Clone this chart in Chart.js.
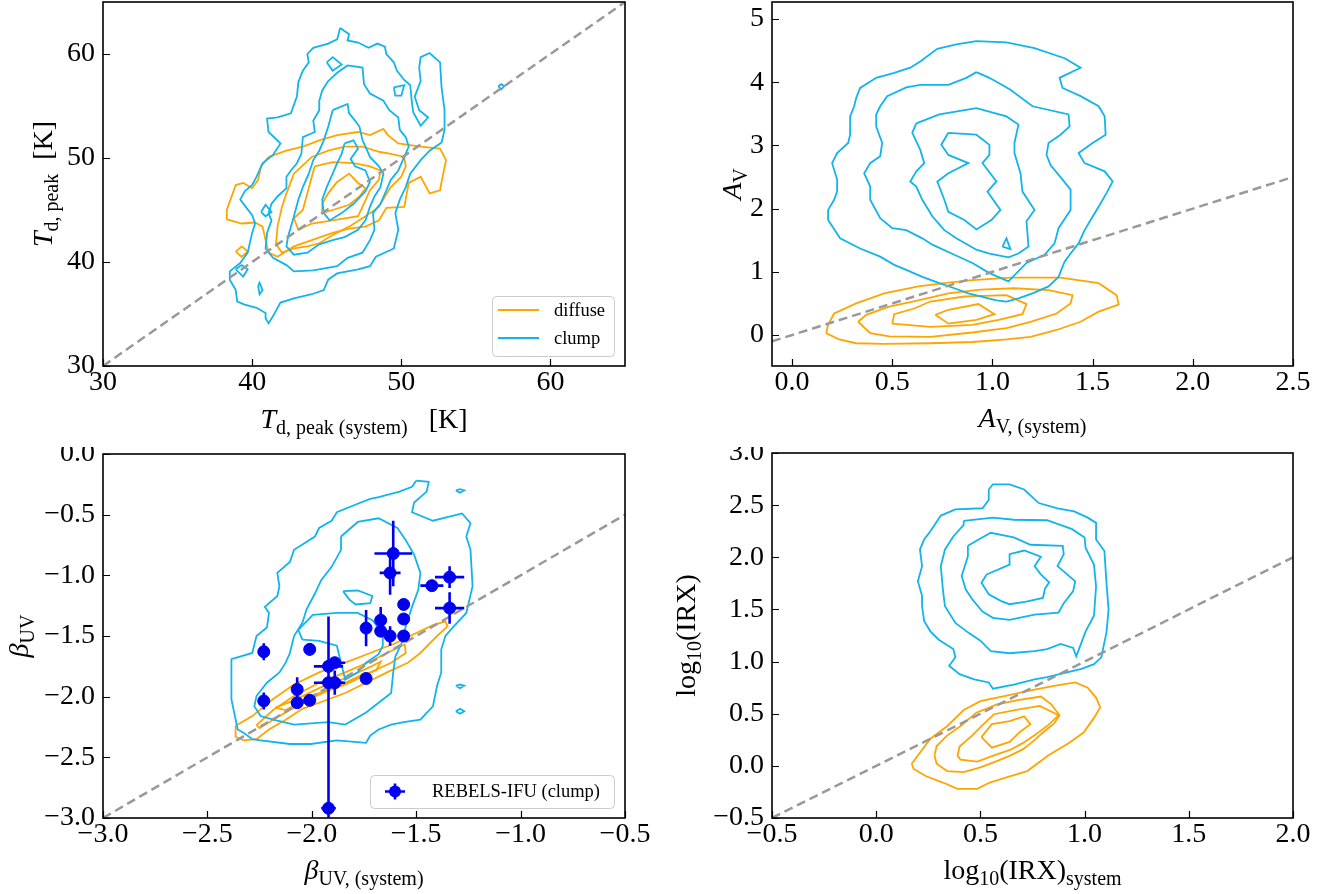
<!DOCTYPE html>
<html>
<head>
<meta charset="utf-8">
<script src="https://cdn.jsdelivr.net/npm/chart.js@4.4.0/dist/chart.umd.min.js"></script>
<style>
  html, body { margin: 0; padding: 0; background: #fff; }
  #wrap { position: relative; width: 1336px; height: 894px; }
  #wrap canvas { position: absolute; }
</style>
</head>
<body>
<div id="wrap"></div>
<script>
// axis limits and tick labels
const tdRange = [30, 65];
const tdTicks = [30, 40, 50, 60];
const avRangeX = [-0.1, 2.5], avRangeY = [-0.49, 5.27];
const avTicksX = [0, 0.5, 1, 1.5, 2, 2.5], avTicksY = [0, 1, 2, 3, 4, 5];
const betaRangeX = [-3, -0.5], betaRangeY = [-3, 0];
const betaTicksX = [-3, -2.5, -2, -1.5, -1, -0.5], betaTicksY = [-3, -2.5, -2, -1.5, -1, -0.5, 0];
const irxRangeX = [-0.5, 2], irxRangeY = [-0.5, 3];
const irxTicksX = [-0.5, 0, 0.5, 1, 1.5, 2], irxTicksY = [-0.5, 0, 0.5, 1, 1.5, 2, 2.5, 3];

// contour levels (outer to inner)
const tdClump = [
  [[45.9,62.5],[46.5,61.9],[46.4,61.3],[47.1,61.1],[47.8,60.6],[48.4,61.0],[48.9,60.7],[49.0,60.0],[49.5,59.2],[49.7,58.4],[50.2,57.5],[50.6,57.0],[50.7,55.5],[50.8,54.4],[51.3,53.1],[51.8,53.9],[51.2,54.6],[50.9,55.9],[51.3,57.4],[51.2,58.7],[51.3,59.7],[51.9,60.1],[52.6,59.2],[52.7,56.8],[52.9,54.6],[52.9,52.7],[52.7,51.5],[51.9,50.7],[51.3,49.8],[50.6,48.5],[50.3,47.2],[49.9,46.0],[49.6,44.7],[49.8,43.1],[49.5,41.3],[48.3,40.5],[47.9,39.6],[47.1,39.3],[45.7,38.9],[45.1,38.3],[44.8,37.3],[44.0,36.9],[42.8,36.5],[41.9,36.1],[41.4,34.8],[41.1,34.1],[40.9,34.6],[40.9,35.1],[40.3,35.6],[39.5,35.9],[39.0,36.2],[38.9,37.3],[38.5,38.3],[38.5,39.1],[39.2,39.9],[39.7,40.9],[40.0,42.8],[40.2,43.7],[40.0,44.5],[39.2,46.0],[39.5,46.8],[40.0,47.4],[40.3,48.2],[40.7,49.5],[41.4,50.3],[41.9,51.4],[41.1,52.5],[41.0,53.8],[41.7,53.9],[42.6,54.3],[43.0,55.9],[43.1,57.3],[43.4,58.4],[43.8,59.2],[43.7,60.0],[44.1,60.6],[45.1,61.0],[45.7,61.4]],
  [[45.1,57.4],[45.7,58.2],[46.4,58.9],[47.4,58.7],[47.5,57.1],[47.9,56.2],[48.8,55.5],[49.2,54.6],[49.8,53.9],[49.9,52.7],[50.3,52.0],[50.5,51.1],[50.2,50.1],[49.8,48.8],[49.3,47.9],[49.0,46.9],[48.6,45.6],[48.1,44.7],[48.2,43.1],[47.9,42.1],[47.4,40.9],[46.4,40.4],[45.7,39.6],[44.1,39.2],[42.8,39.1],[42.3,39.7],[41.4,40.4],[40.9,41.3],[41.0,42.8],[41.3,44.0],[41.1,44.7],[41.3,45.6],[41.7,46.3],[42.3,47.1],[42.3,48.2],[42.6,48.8],[43.0,49.5],[43.3,50.4],[43.4,52.0],[44.2,52.5],[44.1,53.6],[44.5,54.6],[44.5,55.5],[44.7,56.5]],
  [[45.4,54.6],[46.4,55.2],[46.5,54.3],[46.9,53.6],[47.2,53.0],[47.4,51.7],[47.6,51.1],[47.9,50.1],[48.5,49.2],[48.8,48.5],[48.6,47.2],[48.2,46.3],[47.9,45.3],[47.6,44.0],[47.1,43.1],[46.2,42.4],[45.4,42.1],[44.5,41.7],[43.7,40.9],[42.8,40.7],[42.3,41.5],[42.4,42.4],[42.6,43.4],[42.8,44.4],[43.1,46.0],[43.4,47.2],[43.8,48.5],[44.1,49.8],[44.5,50.7],[44.8,51.7],[45.1,53.0]],
  [[46.2,51.4],[46.8,51.7],[47.1,50.9],[46.6,49.9],[46.9,49.2],[47.6,48.8],[47.9,47.7],[47.6,46.8],[46.8,45.6],[46.0,44.7],[45.2,44.0],[44.8,44.7],[44.7,46.0],[45.0,47.2],[45.4,48.5],[45.7,49.5],[46.0,50.4]],
  [[45.0,59.2],[45.4,59.7],[46.0,59.0],[45.4,58.4]],
  [[49.5,56.8],[50.2,57.0],[50.0,56.0],[49.6,56.0]],
  [[56.5,56.9],[56.7,57.1],[56.9,56.9],[56.7,56.6]],
  [[40.6,44.8],[40.9,45.5],[41.3,44.8],[40.9,44.4]],
  [[38.9,39.3],[39.3,39.7],[39.7,39.3],[39.4,38.6]],
  [[40.4,37.7],[40.5,38.0],[40.7,37.3],[40.5,36.9]]
];
const tdDiffuse = [
  [[41.1,50.1],[42.3,50.7],[43.4,51.1],[44.5,51.7],[45.7,52.2],[47.1,52.5],[47.9,52.2],[48.8,52.8],[49.1,52.2],[49.8,51.4],[51.3,51.1],[52.6,50.9],[53.0,49.8],[52.7,47.7],[52.6,46.9],[51.9,46.6],[51.3,48.2],[50.5,47.6],[50.2,45.3],[49.0,45.2],[48.5,44.0],[47.6,43.4],[46.5,43.2],[45.4,42.8],[44.0,42.1],[42.8,41.5],[41.7,40.5],[41.1,40.9],[40.9,42.1],[40.7,43.4],[40.2,43.8],[39.3,43.7],[38.3,44.1],[38.3,45.0],[38.9,47.4],[39.4,47.6],[40.0,47.1],[40.4,47.9],[40.6,49.2]],
  [[42.8,48.5],[44.0,50.1],[45.1,50.7],[46.2,51.1],[47.4,51.1],[48.5,50.6],[49.3,50.4],[50.2,50.1],[50.3,49.2],[50.0,48.2],[49.3,47.2],[48.9,46.3],[48.5,45.3],[47.6,44.4],[46.5,43.4],[45.4,42.6],[44.5,41.8],[43.7,41.5],[42.8,41.3],[42.0,40.9],[41.6,41.7],[41.7,43.4],[42.0,45.3],[42.3,46.6]],
  [[44.2,49.2],[45.4,49.6],[46.8,49.5],[47.9,49.2],[48.6,48.8],[48.5,47.9],[47.9,46.9],[47.4,45.3],[47.1,44.4],[45.4,44.0],[44.0,43.7],[43.1,43.1],[42.8,44.2],[43.4,45.0],[43.7,46.6],[44.0,48.2]],
  [[45.7,47.7],[46.5,48.5],[47.1,47.6],[47.6,47.1],[47.2,46.3],[46.5,45.5],[45.4,45.0],[44.7,44.7],[44.7,45.6],[45.1,46.6]],
  [[38.9,41.0],[39.3,41.5],[39.7,41.0],[39.3,40.5]]
];

const avClump = [
  [[0.92,4.65],[1.07,4.63],[1.21,4.54],[1.36,4.38],[1.44,4.23],[1.335,4.07],[1.35,3.91],[1.44,3.78],[1.53,3.62],[1.56,3.46],[1.565,3.17],[1.50,3.04],[1.43,2.88],[1.46,2.72],[1.56,2.59],[1.60,2.43],[1.57,2.25],[1.53,2.03],[1.49,1.82],[1.46,1.66],[1.43,1.45],[1.39,1.29],[1.36,1.16],[1.33,0.92],[1.28,0.77],[1.20,0.66],[1.13,0.58],[1.07,0.53],[1.02,0.55],[0.94,0.61],[0.88,0.66],[0.81,0.74],[0.735,0.82],[0.65,0.92],[0.57,1.03],[0.51,1.11],[0.44,1.24],[0.34,1.37],[0.24,1.53],[0.18,1.82],[0.18,1.98],[0.21,2.14],[0.225,2.27],[0.225,2.46],[0.20,2.72],[0.225,2.88],[0.28,3.04],[0.29,3.17],[0.29,3.46],[0.31,3.62],[0.32,3.75],[0.34,3.91],[0.42,4.07],[0.51,4.15],[0.59,4.23],[0.64,4.33],[0.725,4.53],[0.82,4.60]],
  [[0.92,4.16],[0.985,4.07],[1.09,3.88],[1.20,3.62],[1.38,3.49],[1.385,3.30],[1.34,3.17],[1.28,3.04],[1.27,2.85],[1.29,2.69],[1.35,2.46],[1.39,2.30],[1.39,1.98],[1.33,1.69],[1.31,1.45],[1.26,1.27],[1.17,1.14],[1.08,0.85],[0.985,0.98],[0.90,1.14],[0.81,1.27],[0.70,1.43],[0.65,1.53],[0.57,1.66],[0.50,1.69],[0.44,1.85],[0.39,2.14],[0.39,2.35],[0.36,2.56],[0.39,2.72],[0.44,2.83],[0.45,3.04],[0.42,3.30],[0.42,3.49],[0.44,3.62],[0.475,3.78],[0.57,3.92],[0.64,3.96],[0.78,3.96],[0.87,4.07]],
  [[0.62,3.35],[0.735,3.49],[0.92,3.59],[1.07,3.46],[1.13,3.33],[1.11,3.04],[1.11,2.88],[1.14,2.56],[1.15,2.27],[1.21,1.98],[1.17,1.80],[1.18,1.40],[1.13,1.29],[1.08,1.23],[0.985,1.29],[0.92,1.35],[0.82,1.53],[0.76,1.66],[0.70,1.88],[0.65,2.14],[0.62,2.35],[0.59,2.43],[0.62,2.59],[0.66,2.72],[0.64,2.93],[0.60,3.20]],
  [[0.78,3.20],[0.92,3.17],[0.985,3.01],[0.985,2.85],[0.95,2.72],[1.02,2.43],[0.975,2.27],[1.04,1.98],[0.995,1.82],[0.92,1.67],[0.86,1.82],[0.78,1.95],[0.76,2.14],[0.725,2.43],[0.78,2.56],[0.88,2.72],[0.78,2.85],[0.745,3.01]],
  [[1.05,1.40],[1.07,1.53],[1.09,1.36]]
];
const avDiffuse = [
  [[0.17,0.03],[0.18,0.16],[0.21,0.34],[0.32,0.50],[0.46,0.66],[0.63,0.77],[0.78,0.83],[0.90,0.87],[1.09,0.91],[1.34,0.91],[1.53,0.82],[1.62,0.63],[1.63,0.48],[1.53,0.37],[1.44,0.21],[1.32,0.08],[1.19,-0.03],[1.07,-0.07],[0.90,-0.11],[0.69,-0.13],[0.46,-0.14],[0.32,-0.13],[0.235,-0.07]],
  [[0.33,0.21],[0.37,0.32],[0.485,0.45],[0.63,0.55],[0.78,0.66],[0.94,0.72],[1.11,0.74],[1.28,0.71],[1.40,0.63],[1.39,0.50],[1.32,0.34],[1.19,0.21],[1.07,0.11],[0.90,0.04],[0.69,-0.03],[0.485,-0.02],[0.39,0.03]],
  [[0.50,0.18],[0.51,0.33],[0.61,0.42],[0.69,0.53],[0.86,0.61],[1.07,0.63],[1.17,0.49],[1.15,0.33],[1.03,0.24],[0.90,0.16],[0.69,0.13]],
  [[0.715,0.32],[0.78,0.40],[0.93,0.49],[1.01,0.33],[0.92,0.24],[0.78,0.18]]
];

const betaClump = [
  [[-1.50,-0.22],[-1.44,-0.23],[-1.45,-0.31],[-1.51,-0.40],[-1.52,-0.48],[-1.42,-0.55],[-1.28,-0.49],[-1.24,-0.57],[-1.26,-0.68],[-1.24,-0.79],[-1.23,-1.09],[-1.26,-1.31],[-1.32,-1.42],[-1.36,-1.50],[-1.38,-1.61],[-1.38,-1.80],[-1.40,-1.91],[-1.42,-2.08],[-1.48,-2.19],[-1.56,-2.21],[-1.62,-2.23],[-1.68,-2.27],[-1.72,-2.32],[-1.74,-2.38],[-1.88,-2.36],[-2.005,-2.39],[-2.105,-2.39],[-2.245,-2.36],[-2.285,-2.35],[-2.325,-2.30],[-2.355,-2.27],[-2.385,-2.02],[-2.385,-1.80],[-2.385,-1.69],[-2.285,-1.64],[-2.265,-1.50],[-2.215,-1.43],[-2.205,-1.31],[-2.225,-1.26],[-2.165,-1.17],[-2.155,-1.09],[-2.165,-0.98],[-2.105,-0.89],[-2.085,-0.79],[-1.985,-0.68],[-1.965,-0.61],[-1.905,-0.55],[-1.88,-0.48],[-1.78,-0.41],[-1.72,-0.37],[-1.68,-0.355],[-1.58,-0.31],[-1.52,-0.27]],
  [[-1.86,-0.68],[-1.78,-0.56],[-1.68,-0.53],[-1.59,-0.61],[-1.55,-0.71],[-1.51,-0.83],[-1.48,-0.98],[-1.49,-1.12],[-1.52,-1.26],[-1.55,-1.42],[-1.57,-1.56],[-1.60,-1.67],[-1.61,-1.80],[-1.62,-1.97],[-1.68,-2.05],[-1.74,-2.13],[-1.84,-2.23],[-1.92,-2.21],[-2.085,-2.23],[-2.185,-2.19],[-2.245,-2.16],[-2.275,-2.08],[-2.265,-1.995],[-2.215,-1.885],[-2.155,-1.80],[-2.125,-1.72],[-2.105,-1.64],[-2.085,-1.50],[-2.045,-1.39],[-2.025,-1.28],[-1.985,-1.15],[-1.955,-1.04],[-1.905,-0.93],[-1.86,-0.79]],
  [[-2.045,-1.53],[-2.065,-1.45],[-1.995,-1.325],[-1.88,-1.31],[-1.78,-1.31],[-1.71,-1.37],[-1.66,-1.48],[-1.66,-1.58],[-1.68,-1.65],[-1.74,-1.72],[-1.78,-1.80],[-1.84,-1.86],[-1.88,-1.58],[-1.965,-1.54]],
  [[-1.85,-1.13],[-1.78,-1.125],[-1.71,-1.17],[-1.72,-1.23],[-1.79,-1.24],[-1.82,-1.20]],
  [[-1.31,-0.30],[-1.29,-0.29],[-1.27,-0.30],[-1.29,-0.32]],
  [[-1.31,-1.91],[-1.29,-1.90],[-1.27,-1.91],[-1.29,-1.93]],
  [[-1.31,-2.12],[-1.29,-2.10],[-1.27,-2.12],[-1.29,-2.14]]
];
const betaDiffuse = [
  [[-2.365,-2.24],[-2.285,-2.16],[-2.185,-2.02],[-2.085,-1.90],[-1.965,-1.80],[-1.84,-1.72],[-1.72,-1.64],[-1.60,-1.56],[-1.50,-1.475],[-1.42,-1.41],[-1.36,-1.38],[-1.35,-1.42],[-1.40,-1.50],[-1.48,-1.64],[-1.54,-1.72],[-1.64,-1.80],[-1.74,-1.885],[-1.84,-1.97],[-1.965,-2.05],[-2.045,-2.10],[-2.125,-2.19],[-2.205,-2.27],[-2.265,-2.35],[-2.325,-2.36],[-2.365,-2.33]],
  [[-2.265,-2.235],[-2.185,-2.11],[-2.085,-1.995],[-1.965,-1.885],[-1.84,-1.80],[-1.72,-1.71],[-1.64,-1.64],[-1.555,-1.57],[-1.55,-1.64],[-1.62,-1.72],[-1.72,-1.80],[-1.84,-1.90],[-1.965,-1.98],[-2.085,-2.09],[-2.185,-2.19],[-2.25,-2.26]],
  [[-2.175,-2.09],[-2.085,-2.03],[-1.965,-1.93],[-1.84,-1.85],[-1.72,-1.755],[-1.67,-1.71],[-1.69,-1.78],[-1.80,-1.865],[-1.925,-1.945],[-2.045,-2.035],[-2.125,-2.11]],
  [[-2.085,-2.06],[-1.965,-1.97],[-1.84,-1.885],[-1.76,-1.82],[-1.80,-1.87],[-1.925,-1.95],[-2.045,-2.05]]
];

const irxClump = [
  [[0.54,2.65],[0.56,2.70],[0.64,2.70],[0.71,2.65],[0.78,2.52],[0.87,2.47],[0.95,2.44],[1.015,2.38],[1.055,2.33],[1.055,2.17],[1.095,2.06],[1.105,1.755],[1.115,1.50],[1.105,1.28],[1.08,1.04],[1.045,0.975],[0.985,0.93],[0.90,0.89],[0.82,0.85],[0.76,0.83],[0.66,0.78],[0.56,0.74],[0.54,0.80],[0.47,0.83],[0.40,0.88],[0.35,0.96],[0.38,1.04],[0.37,1.12],[0.30,1.21],[0.26,1.29],[0.23,1.39],[0.22,1.53],[0.22,1.63],[0.20,1.77],[0.22,1.915],[0.21,2.075],[0.23,2.17],[0.26,2.25],[0.31,2.40],[0.38,2.46],[0.51,2.47],[0.54,2.55]],
  [[0.42,2.35],[0.56,2.38],[0.66,2.36],[0.82,2.355],[0.94,2.27],[1.0,2.19],[1.005,2.09],[1.045,1.93],[1.055,1.72],[1.045,1.44],[1.005,1.29],[0.96,1.05],[0.945,1.13],[0.885,1.17],[0.82,1.12],[0.76,1.10],[0.64,1.08],[0.55,1.10],[0.50,1.20],[0.44,1.28],[0.38,1.37],[0.33,1.53],[0.32,1.69],[0.31,1.915],[0.33,2.075],[0.37,2.20],[0.42,2.31]],
  [[0.44,2.11],[0.50,2.18],[0.55,2.235],[0.66,2.19],[0.74,2.12],[0.895,2.11],[0.90,2.03],[0.87,1.915],[0.955,1.77],[0.945,1.675],[0.90,1.56],[0.875,1.47],[0.76,1.45],[0.64,1.40],[0.56,1.42],[0.51,1.48],[0.46,1.60],[0.43,1.69],[0.41,1.82],[0.44,2.01]],
  [[0.53,1.835],[0.64,1.93],[0.64,2.03],[0.71,2.065],[0.79,2.005],[0.76,1.915],[0.79,1.835],[0.83,1.76],[0.81,1.70],[0.80,1.61],[0.72,1.575],[0.64,1.55],[0.60,1.58],[0.54,1.645],[0.505,1.755]]
];
const irxDiffuse = [
  [[0.17,0.02],[0.20,0.10],[0.26,0.26],[0.34,0.38],[0.42,0.535],[0.50,0.62],[0.62,0.67],[0.76,0.73],[0.86,0.77],[0.955,0.80],[1.015,0.75],[1.055,0.655],[1.075,0.56],[1.045,0.46],[0.995,0.32],[0.925,0.22],[0.825,0.10],[0.725,-0.05],[0.625,-0.11],[0.545,-0.16],[0.485,-0.22],[0.39,-0.22],[0.32,-0.16],[0.24,-0.10],[0.18,-0.03]],
  [[0.28,0.10],[0.29,0.19],[0.34,0.29],[0.41,0.39],[0.48,0.51],[0.58,0.59],[0.68,0.63],[0.79,0.665],[0.84,0.59],[0.88,0.485],[0.855,0.41],[0.80,0.32],[0.755,0.24],[0.705,0.16],[0.645,0.10],[0.585,0.05],[0.50,-0.015],[0.42,-0.06],[0.34,-0.05],[0.29,0.02]],
  [[0.39,0.095],[0.40,0.185],[0.46,0.29],[0.505,0.38],[0.565,0.495],[0.665,0.535],[0.785,0.575],[0.875,0.485],[0.825,0.39],[0.765,0.30],[0.705,0.22],[0.645,0.155],[0.565,0.10],[0.485,0.04],[0.405,0.06]],
  [[0.505,0.275],[0.555,0.40],[0.64,0.43],[0.71,0.475],[0.74,0.40],[0.69,0.325],[0.64,0.23],[0.555,0.175]]
];

// REBELS-IFU clumps
const rebelsBetaSys = [-2.23, -2.23, -2.01, -2.07, -2.07, -2.01, -1.92, -1.89, -1.92, -1.89, -1.92, -1.74, -1.74, -1.67, -1.67, -1.625, -1.61, -1.625, -1.56, -1.56, -1.56, -1.425, -1.34, -1.34];
const rebelsBeta    = [-1.63, -2.035, -1.61, -1.94, -2.05, -2.03, -1.75, -1.72, -1.885, -1.885, -2.92, -1.435, -1.85, -1.37, -1.46, -1.50, -0.82, -0.98, -1.24, -1.36, -1.50, -1.085, -1.015, -1.27];
const rebelsXerr    = [0.01, 0.01, 0.01, 0.02, 0.03, 0.01, 0.07, 0.05, 0.07, 0.05, 0.035, 0.01, 0.01, 0.01, 0.01, 0.01, 0.09, 0.05, 0.01, 0.01, 0.01, 0.055, 0.07, 0.07];
const rebelsYerr    = [0.07, 0.07, 0.05, 0.10, 0.05, 0.04, 0.05, 0.04, 0.05, 0.10, 1.58, 0.15, 0.04, 0.11, 0.04, 0.08, 0.27, 0.18, 0.03, 0.03, 0.04, 0.03, 0.09, 0.13];

const BLUE = '#12b4ec', ORANGE = '#ffa500', PTS = '#0000ee';
const SERIF = '"Liberation Serif", "Times New Roman", serif';

function contourSets(levels, color, order) {
  return levels.map(pts => ({
    data: pts.concat([pts[0]]).map(p => ({ x: p[0], y: p[1] })),
    showLine: true, borderColor: color, borderWidth: 1.8,
    pointRadius: 0, pointHoverRadius: 0, fill: false, order: order
  }));
}

function fmt1(v) { return v.toFixed(1).replace('-', '\u2212'); }

function drawRich(ctx, parts, x, y, rotate) {
  ctx.save();
  ctx.translate(x, y);
  if (rotate) ctx.rotate(-Math.PI / 2);
  const fontOf = p => (p.it ? 'italic ' : '') + (p.sub ? 20 : 28) + 'px ' + SERIF;
  const widths = parts.map(p => { ctx.font = fontOf(p); return ctx.measureText(p.t).width; });
  let cx = -widths.reduce((a, b) => a + b, 0) / 2;
  ctx.fillStyle = '#000';
  ctx.textBaseline = 'alphabetic';
  ctx.textAlign = 'left';
  parts.forEach((p, i) => {
    ctx.font = fontOf(p);
    ctx.fillText(p.t, cx, p.sub ? 6 : 0);
    cx += widths[i];
  });
  ctx.restore();
}

// box, inward ticks, error bars, legend, axis titles
const decorPlugin = {
  id: 'decor',
  beforeDatasetDraw(chart, args) {
    const ds = chart.data.datasets[args.index];
    if (!ds.errX) return;
    const { ctx, chartArea: a, scales: { x, y } } = chart;
    ctx.save();
    ctx.beginPath();
    ctx.rect(a.left, a.top, a.right - a.left, a.bottom - a.top);
    ctx.clip();
    ctx.strokeStyle = PTS;
    ctx.lineWidth = 2.6;
    ds.data.forEach((p, i) => {
      const px = x.getPixelForValue(p.x), py = y.getPixelForValue(p.y);
      ctx.beginPath();
      ctx.moveTo(x.getPixelForValue(p.x - ds.errX[i]), py);
      ctx.lineTo(x.getPixelForValue(p.x + ds.errX[i]), py);
      ctx.moveTo(px, y.getPixelForValue(p.y - ds.errY[i]));
      ctx.lineTo(px, y.getPixelForValue(p.y + ds.errY[i]));
      ctx.stroke();
    });
    ctx.restore();
  },
  afterDatasetsDraw(chart) {
    const { ctx, chartArea: a, scales: { x, y } } = chart;
    const cfg = chart.options.plugins.decor;
    ctx.save();
    ctx.strokeStyle = '#000';
    ctx.lineWidth = 1.2;
    ctx.beginPath();
    x.ticks.forEach(t => {
      const px = Math.round(x.getPixelForValue(t.value)) + 0.5;
      ctx.moveTo(px, a.bottom); ctx.lineTo(px, a.bottom - 7);
    });
    y.ticks.forEach(t => {
      const py = Math.round(y.getPixelForValue(t.value)) + 0.5;
      ctx.moveTo(a.left, py); ctx.lineTo(a.left + 7, py);
    });
    ctx.stroke();
    ctx.lineWidth = 1.6;
    ctx.strokeRect(a.left, a.top, a.right - a.left, a.bottom - a.top);

    const lg = cfg.legend;
    if (lg) {
      const bx = a.right - 11 - lg.w, by = a.bottom - 10 - lg.h;
      ctx.beginPath();
      ctx.roundRect(bx + 0.5, by + 0.5, lg.w, lg.h, 4);
      ctx.fillStyle = 'rgba(255,255,255,0.8)';
      ctx.fill();
      ctx.strokeStyle = '#cccccc';
      ctx.lineWidth = 1;
      ctx.stroke();
      ctx.font = '18.5px ' + SERIF;
      ctx.textBaseline = 'middle';
      ctx.textAlign = 'left';
      lg.items.forEach((it, i) => {
        const ly = by + lg.first + i * 28;
        if (it.kind === 'line') {
          ctx.strokeStyle = it.color; ctx.lineWidth = 2.2;
          ctx.beginPath(); ctx.moveTo(bx + 6, ly); ctx.lineTo(bx + 47, ly); ctx.stroke();
        } else {
          const mx = bx + 25;
          ctx.strokeStyle = it.color; ctx.lineWidth = 2.6;
          ctx.beginPath();
          ctx.moveTo(mx - 10, ly); ctx.lineTo(mx + 10, ly);
          ctx.moveTo(mx, ly - 8); ctx.lineTo(mx, ly + 8);
          ctx.stroke();
          ctx.fillStyle = it.color;
          ctx.beginPath(); ctx.arc(mx, ly, 6, 0, Math.PI * 2); ctx.fill();
        }
        ctx.fillStyle = '#000';
        ctx.fillText(it.label, bx + 62, ly + 1);
      });
    }
    ctx.restore();
  },
  afterDraw(chart) {
    const { ctx, chartArea: a } = chart;
    const cfg = chart.options.plugins.decor;
    drawRich(ctx, cfg.xTitle, (a.left + a.right) / 2, a.bottom + cfg.xTitleDy, false);
    drawRich(ctx, cfg.yTitle, a.left - cfg.yTitleDx, (a.top + a.bottom) / 2, true);
  }
};

function makePanel(p) {
  const cv = document.createElement('canvas');
  cv.width = 668; cv.height = 447;
  cv.style.left = p.left + 'px';
  cv.style.top = p.top + 'px';
  document.getElementById('wrap').appendChild(cv);

  const datasets = [];
  if (p.points) datasets.push(p.points);
  datasets.push({
    data: [{ x: p.line[0], y: p.line[0] }, { x: p.line[1], y: p.line[1] }],
    showLine: true, borderColor: '#999999', borderWidth: 2.5, borderDash: [9, 5],
    pointRadius: 0, pointHoverRadius: 0, order: 1
  });
  datasets.push(...contourSets(p.clump, BLUE, 2));
  datasets.push(...contourSets(p.diffuse, ORANGE, 3));

  const tickFont = { family: SERIF, size: 28 };
  const axis = (range, vals, fmt, isX) => ({
    type: 'linear', min: range[0], max: range[1],
    grid: { display: false, drawTicks: false },
    border: { display: false },
    afterBuildTicks: s => { s.ticks = vals.map(v => ({ value: v })); },
    afterFit: s => {
      if (isX) { s.height = p.bottomSpace; s.paddingLeft = 0; s.paddingRight = 0; }
      else { s.width = p.leftSpace; s.paddingTop = 0; s.paddingBottom = 0; }
    },
    ticks: {
      autoSkip: false, maxRotation: 0, minRotation: 0, color: '#000',
      padding: isX ? 0 : 8, font: tickFont, callback: fmt
    }
  });

  return new Chart(cv, {
    type: 'scatter',
    data: { datasets: datasets },
    options: {
      responsive: false,
      animation: false,
      devicePixelRatio: 1,
      events: [],
      layout: { padding: { top: p.topSpace, right: 43, left: 0, bottom: 0 } },
      scales: {
        x: axis(p.xRange, p.xTicks, p.xFmt, true),
        y: axis(p.yRange, p.yTicks, p.yFmt, false)
      },
      plugins: {
        legend: { display: false },
        tooltip: { enabled: false },
        decor: {
          xTitle: p.xTitle, yTitle: p.yTitle,
          xTitleDy: p.xTitleDy, yTitleDx: p.yTitleDx, legend: p.legend
        }
      }
    },
    plugins: [decorPlugin]
  });
}

makePanel({
  left: 0, top: 0, leftSpace: 103, topSpace: 2, bottomSpace: 81,
  xRange: tdRange, yRange: tdRange, xTicks: tdTicks, yTicks: tdTicks,
  xFmt: v => String(v), yFmt: v => String(v),
  line: tdRange, clump: tdClump, diffuse: tdDiffuse,
  xTitle: [{ t: 'T', it: 1 }, { t: 'd, peak (system)', sub: 1 }, { t: '   [K]' }],
  yTitle: [{ t: 'T', it: 1 }, { t: 'd, peak', sub: 1 }, { t: '  [K]' }],
  xTitleDy: 62, yTitleDx: 51,
  legend: { w: 122, h: 60, first: 14, items: [
    { label: 'diffuse', color: ORANGE, kind: 'line' },
    { label: 'clump', color: BLUE, kind: 'line' }
  ] }
});

makePanel({
  left: 668, top: 0, leftSpace: 104, topSpace: 2, bottomSpace: 81,
  xRange: avRangeX, yRange: avRangeY, xTicks: avTicksX, yTicks: avTicksY,
  xFmt: fmt1, yFmt: v => String(v),
  line: [avRangeX[0], avRangeX[1]], clump: avClump, diffuse: avDiffuse,
  xTitle: [{ t: 'A', it: 1 }, { t: 'V, (system)', sub: 1 }],
  yTitle: [{ t: 'A', it: 1 }, { t: 'V', sub: 1 }],
  xTitleDy: 61, yTitleDx: 31
});

makePanel({
  left: 0, top: 447, leftSpace: 103, topSpace: 6, bottomSpace: 76,
  xRange: betaRangeX, yRange: betaRangeY, xTicks: betaTicksX, yTicks: betaTicksY,
  xFmt: fmt1, yFmt: fmt1,
  line: betaRangeX, clump: betaClump, diffuse: betaDiffuse,
  points: {
    data: rebelsBetaSys.map((v, i) => ({ x: v, y: rebelsBeta[i] })),
    errX: rebelsXerr, errY: rebelsYerr,
    backgroundColor: PTS, borderColor: PTS, pointRadius: 6, pointHoverRadius: 6,
    showLine: false, order: 0
  },
  xTitle: [{ t: '\u03b2', it: 1 }, { t: 'UV, (system)', sub: 1 }],
  yTitle: [{ t: '\u03b2', it: 1 }, { t: 'UV', sub: 1 }],
  xTitleDy: 61, yTitleDx: 75,
  legend: { w: 244, h: 33, first: 16.5, items: [
    { label: 'REBELS-IFU (clump)', color: PTS, kind: 'err' }
  ] }
});

makePanel({
  left: 668, top: 447, leftSpace: 104, topSpace: 6, bottomSpace: 76,
  xRange: irxRangeX, yRange: irxRangeY, xTicks: irxTicksX, yTicks: irxTicksY,
  xFmt: fmt1, yFmt: fmt1,
  line: irxRangeX, clump: irxClump, diffuse: irxDiffuse,
  xTitle: [{ t: 'log' }, { t: '10', sub: 1 }, { t: '(IRX)' }, { t: 'system', sub: 1 }],
  yTitle: [{ t: 'log' }, { t: '10', sub: 1 }, { t: '(IRX)' }],
  xTitleDy: 61, yTitleDx: 77
});
</script>
</body>
</html>
